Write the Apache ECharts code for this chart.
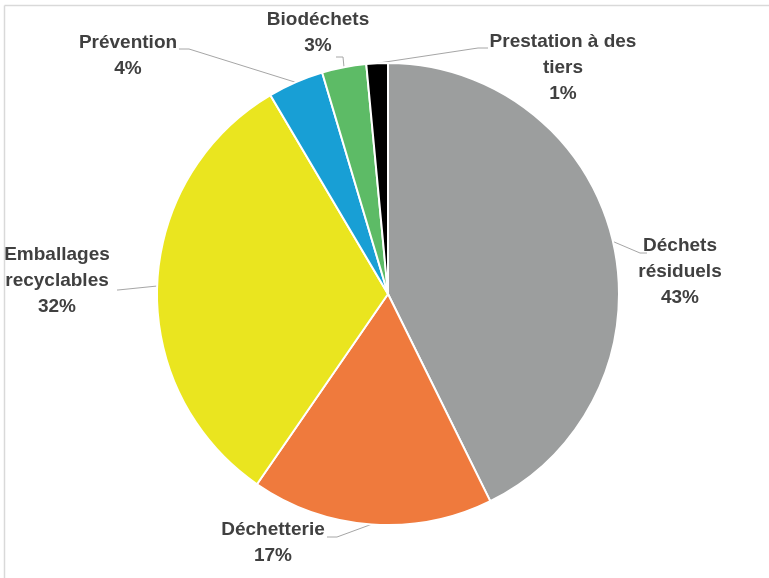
<!DOCTYPE html>
<html>
<head>
<meta charset="utf-8">
<style>
  html, body { margin: 0; padding: 0; background: #fff; }
  #main { width: 769px; height: 578px; }
</style>
<script src="https://cdn.jsdelivr.net/npm/echarts@6/dist/echarts.min.js"></script>
</head>
<body>
<div id="main"></div>
<script>
// categories, clockwise from the top
var categories = ['Déchets\nrésiduels', 'Déchetterie', 'Emballages\nrecyclables', 'Prévention', 'Biodéchets', 'Prestation à des\ntiers'];
var shares = [42.7, 16.9, 31.9, 3.9, 3.1, 1.5];
var colors = ['#9c9e9e', '#ef7a3d', '#eae51f', '#189fd5', '#5dbb66', '#000000'];

// where each label block sits (centre x, centre y)
var labelPos = [[680, 272], [273, 543], [57, 281], [128, 56], [318, 33], [563, 68]];
// leader line end, relative to the label centre: [dx, dy, elbow offset in x]
var leaderEnd = [[-33, -19, -7], [54, -6, 10], [60, 9, 1], [51, -7, 10], [18, 24, 7], [-75, -20, -10]];

var chart = echarts.init(document.getElementById('main'));

var option = {
  backgroundColor: '#fff',
  animation: false,
  graphic: [
    { type: 'line', shape: { x1: 4.5, y1: 5.5, x2: 769, y2: 5.5 }, style: { stroke: '#d9d9d9', lineWidth: 1.5 } },
    { type: 'line', shape: { x1: 4.5, y1: 5.5, x2: 4.5, y2: 578 }, style: { stroke: '#d9d9d9', lineWidth: 1.5 } }
  ],
  series: [{
    type: 'pie',
    center: [388, 294],
    radius: 231,
    startAngle: 90,
    percentPrecision: 0,
    itemStyle: { borderColor: '#fff', borderWidth: 2 },
    label: {
      show: true,
      formatter: '{b}\n{d}%',
      fontFamily: 'Liberation Sans',
      fontWeight: 'bold',
      fontSize: 19,
      lineHeight: 26,
      color: '#404040',
      align: 'center',
      overflow: 'none'
    },
    labelLine: {
      show: true,
      lineStyle: { color: '#a6a6a6', width: 1 }
    },
    labelLayout: function (params) {
      var i = params.dataIndex;
      var p = labelPos[i];
      var e = leaderEnd[i];
      var anchor = params.labelLinePoints ? params.labelLinePoints[0] : null;
      var res = { x: p[0], y: p[1], align: 'center', verticalAlign: 'middle' };
      if (anchor) {
        var endX = p[0] + e[0], endY = p[1] + e[1];
        res.labelLinePoints = [anchor, [endX + e[2], endY], [endX, endY]];
      }
      return res;
    },
    data: categories.map(function (name, i) {
      return { name: name, value: shares[i], itemStyle: { color: colors[i] } };
    })
  }]
};

chart.setOption(option);
</script>
</body>
</html>
